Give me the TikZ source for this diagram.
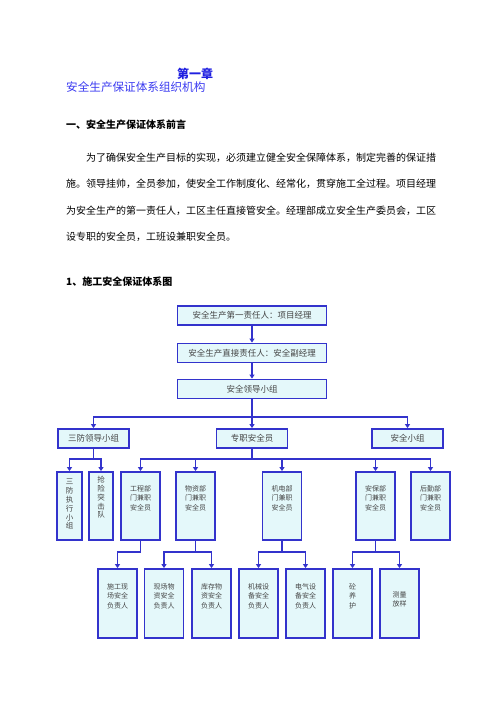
\documentclass[tikz,border=0pt]{standalone}
\usepackage{fontspec}
\setmainfont{Noto Sans CJK SC}
\usetikzlibrary{arrows.meta}
\definecolor{bc}{HTML}{3333CC}
\definecolor{bf}{HTML}{E4F8FA}
\definecolor{tc}{HTML}{444444}
\definecolor{hb}{HTML}{2020E0}
\definecolor{hl}{HTML}{3A3AF0}
\newcommand{\boxtxt}[4]{\begin{minipage}[c][#1][t]{#2}\centering\vspace*{#3}#4\end{minipage}}
\begin{document}
\begin{tikzpicture}[x=1pt,y=-1pt,
  wide/.style={draw=bc,fill=bf,line width=1.8pt,inner sep=0pt,minimum width=149pt,minimum height=19pt,font=\fontsize{8.5}{10}\selectfont,text=tc},
  mid/.style={wide,minimum width=71pt},
  tall/.style={draw=bc,fill=bf,line width=1.8pt,inner sep=0pt,minimum height=68pt,text=tc,font=\fontsize{7}{9.5}\selectfont},
  vert/.style={tall,font=\fontsize{7.5}{8.8}\selectfont},
  conn/.style={draw=bc,line width=1.5pt},
  arr/.style={conn,-{Triangle[length=4pt,width=5pt]}},
  para/.style={anchor=west,inner sep=0pt,font=\fontsize{10}{12}\selectfont},
  ]
\useasboundingbox (0,0) rectangle (496,702);

% headings
\node[inner sep=0pt,text=hb,font=\fontsize{12}{14}\selectfont\bfseries] (ch) at (195,74) {第一章};
\node[para,text=hl,font=\fontsize{11.6}{14}\selectfont] (ti) at (66,87) {安全生产保证体系组织机构};
\node[para,font=\fontsize{10}{12}\selectfont\bfseries] (h1) at (66,125) {一、安全生产保证体系前言};
\node[para] (p1) at (86,158) {为了确保安全生产目标的实现，必须建立健全安全保障体系，制定完善的保证措};
\node[para] (p2) at (66,184) {施。领导挂帅，全员参加，使安全工作制度化、经常化，贯穿施工全过程。项目经理};
\node[para] (p3) at (66,211) {为安全生产的第一责任人，工区主任直接管安全。经理部成立安全生产委员会，工区};
\node[para] (p4) at (66,237) {设专职的安全员，工班设兼职安全员。};
\node[para,font=\fontsize{10}{12}\selectfont\bfseries] (h2) at (66,282) {1、施工安全保证体系图};

% level 1
\node[wide] (b1) at (252,315.5) {安全生产第一责任人：项目经理};
\node[wide] (b2) at (252,353) {安全生产直接责任人：安全副经理};
\node[wide] (b3) at (252,389) {安全领导小组};

% level 2
\node[mid] (s1) at (93.5,438.5) {三防领导小组};
\node[mid] (s2) at (252,438.5) {专职安全员};
\node[mid] (s3) at (407.5,438.5) {安全小组};

% level 3
\node[vert,minimum width=25pt] (t1) at (69.5,506) {\boxtxt{68pt}{25pt}{7.3pt}{三\\防\\执\\行\\小\\组}};
\node[vert,minimum width=24pt] (t2) at (101,506) {\boxtxt{68pt}{24pt}{4.3pt}{抢\\险\\突\\击\\队}};
\node[tall,minimum width=39pt] (u1) at (140.5,506) {\boxtxt{68pt}{39pt}{13.5pt}{工程部\\门兼职\\安全员}};
\node[tall,minimum width=39pt] (u2) at (195.5,506) {\boxtxt{68pt}{39pt}{13.5pt}{物资部\\门兼职\\安全员}};
\node[tall,minimum width=39pt] (u3) at (282,506) {\boxtxt{68pt}{39pt}{13.5pt}{机电部\\门兼职\\安全员}};
\node[tall,minimum width=39pt] (u4) at (375.5,506) {\boxtxt{68pt}{39pt}{13.5pt}{安保部\\门兼职\\安全员}};
\node[tall,minimum width=39pt] (u5) at (430.5,506) {\boxtxt{68pt}{39pt}{13.5pt}{后勤部\\门兼职\\安全员}};

% level 4
\node[tall,minimum width=39pt,minimum height=69pt] (v1) at (117.5,603.5) {\boxtxt{69pt}{39pt}{14.5pt}{施工现\\场安全\\负责人}};
\node[tall,minimum width=39pt,minimum height=69pt] (v2) at (164,603.5) {\boxtxt{69pt}{39pt}{14.5pt}{现场物\\资安全\\负责人}};
\node[tall,minimum width=39pt,minimum height=69pt] (v3) at (211.5,603.5) {\boxtxt{69pt}{39pt}{14.5pt}{库存物\\资安全\\负责人}};
\node[tall,minimum width=39pt,minimum height=69pt] (v4) at (258.5,603.5) {\boxtxt{69pt}{39pt}{14.5pt}{机械设\\备安全\\负责人}};
\node[tall,minimum width=39pt,minimum height=69pt] (v5) at (305.5,603.5) {\boxtxt{69pt}{39pt}{14.5pt}{电气设\\备安全\\负责人}};
\node[tall,minimum width=39pt,minimum height=69pt] (v6) at (352.5,603.5) {\boxtxt{69pt}{39pt}{14.5pt}{砼\\养\\护}};
\node[tall,minimum width=39pt,minimum height=69pt] (v7) at (399.5,603.5) {\boxtxt{69pt}{39pt}{22.5pt}{测量\\放样}};

% connectors
\draw[arr] (b1.south) -- (b2.north);
\draw[arr] (b2.south) -- (b3.north);
\coordinate (j1) at (252,417);
\draw[conn] (b3.south) -- (j1);
\draw[arr] (j1) -- (s2.north);
\draw[arr] (j1) -| (s1.north);
\draw[arr] (j1) -| (s3.north);

\coordinate (j2) at (93.5,459);
\draw[conn] (s1.south) -- (j2);
\draw[arr] (j2) -| (t1.north);
\draw[arr] (j2) -| (t2.north);

\coordinate (j3) at (252,459);
\draw[conn] (s2.south) -- (j3);
\foreach \n in {u1,u2,u3,u4,u5} \draw[arr] (j3) -| (\n.north);

\coordinate (k1) at (140.5,552);
\coordinate (k2) at (195.5,552);
\coordinate (k3) at (282,552);
\coordinate (k4) at (375.5,552);
\draw[arr] (u1.south) -- (k1) -| (v1.north);
\draw[conn] (u2.south) -- (k2);
\draw[arr] (k2) -| (v2.north);
\draw[arr] (k2) -| (v3.north);
\draw[conn] (u3.south) -- (k3);
\draw[arr] (k3) -| (v4.north);
\draw[arr] (k3) -| (v5.north);
\draw[conn] (u4.south) -- (k4);
\draw[arr] (k4) -| (v6.north);
\draw[arr] (k4) -| (v7.north);
\end{tikzpicture}
\end{document}
